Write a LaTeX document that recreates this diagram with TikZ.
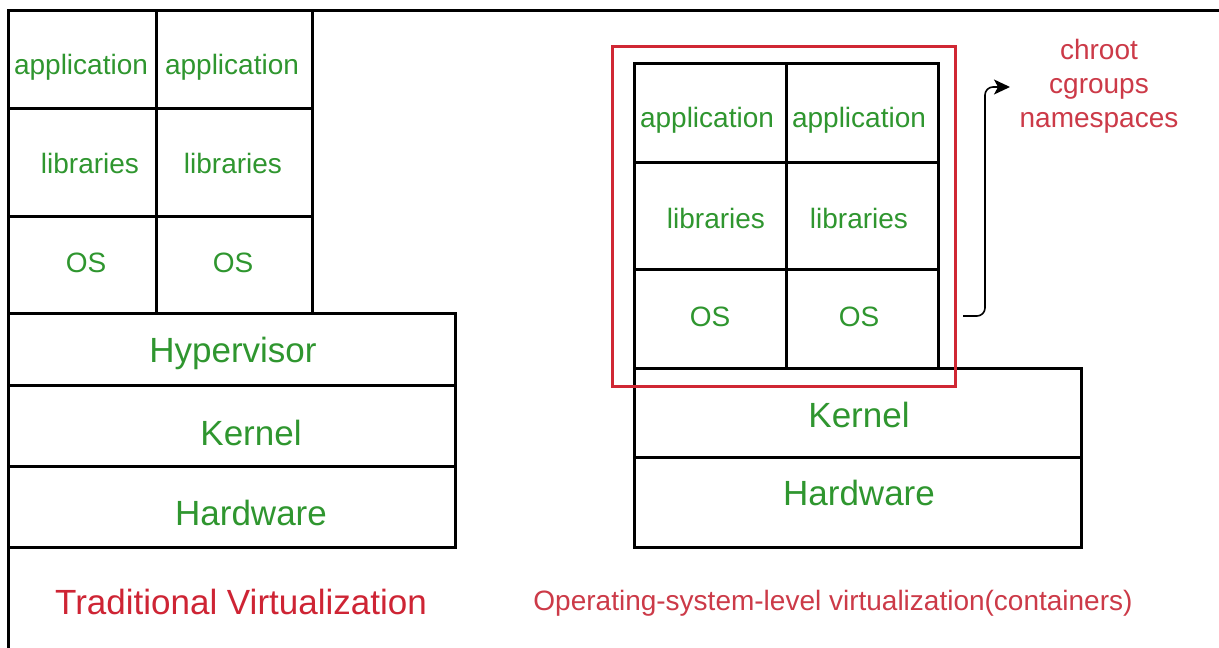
\documentclass[tikz,border=0pt]{standalone}
\usepackage{fontspec}
\setmainfont{Liberation Sans}
\usetikzlibrary{arrows.meta}

\definecolor{lblgreen}{RGB}{47,150,47}
\definecolor{lblred}{RGB}{206,36,52}
\definecolor{notered}{RGB}{204,58,72}
\definecolor{boxred}{RGB}{208,40,52}

\tikzset{
  cell/.style={draw=black, line width=3pt, rectangle, inner sep=0pt, outer sep=0pt},
  small/.style={text=lblgreen, font=\fontsize{28}{32}\selectfont, inner sep=0pt},
  big/.style={text=lblgreen, font=\fontsize{35}{40}\selectfont, inner sep=0pt},
  caption/.style={font=\fontsize{35}{40}\selectfont, inner sep=0pt},
}

\begin{document}
\begin{tikzpicture}[x=1pt, y=-1pt]
\useasboundingbox (0,0) rectangle (1219,648);
\fill[white] (0,0) rectangle (1219,648);

% outer frame (top and left edges)
\coordinate (ftl) at (8,10);
\coordinate (ftr) at (1222,10);
\coordinate (fbl) at (8,652);
\draw[line width=3pt] (ftr) -- (ftl) -- (fbl);

% ---------- traditional virtualization stack ----------
\node[cell, minimum width=148pt, minimum height=98pt]  (la1) at (82,59) {};
\node[cell, minimum width=156pt, minimum height=98pt]  (la2) at (234,59) {};
\node[cell, minimum width=148pt, minimum height=108pt] (ll1) at (82,162) {};
\node[cell, minimum width=156pt, minimum height=108pt] (ll2) at (234,162) {};
\node[cell, minimum width=148pt, minimum height=97pt]  (lo1) at (82,264.5) {};
\node[cell, minimum width=156pt, minimum height=97pt]  (lo2) at (234,264.5) {};
\node[cell, minimum width=447pt, minimum height=72pt]  (hyp) at (231.5,349) {};
\node[cell, minimum width=447pt, minimum height=81pt]  (lker) at (231.5,425.5) {};
\node[cell, minimum width=447pt, minimum height=81pt]  (lhw) at (231.5,506.5) {};

\node[small] (ta1) at (81,67) {application};
\node[small] (ta2) at (232,67) {application};
\node[small] (tl1) at (90,163) {libraries};
\node[small] (tl2) at (233,163) {libraries};
\node[small] (to1) at (86,263) {OS};
\node[small] (to2) at (233,263) {OS};
\node[big] (thyp) at (233,353) {Hypervisor};
\node[big] (tlker) at (251,433) {Kernel};
\node[big] (tlhw) at (251,513) {Hardware};

\node[caption, text=lblred] (cap1) at (241,602) {Traditional Virtualization};

% ---------- container stack ----------
\node[cell, minimum width=152pt, minimum height=99pt]  (ra1) at (710,112.5) {};
\node[cell, minimum width=152pt, minimum height=99pt]  (ra2) at (862,112.5) {};
\node[cell, minimum width=152pt, minimum height=107pt] (rl1) at (710,215.5) {};
\node[cell, minimum width=152pt, minimum height=107pt] (rl2) at (862,215.5) {};
\node[cell, minimum width=152pt, minimum height=99pt]  (ro1) at (710,318.5) {};
\node[cell, minimum width=152pt, minimum height=99pt]  (ro2) at (862,318.5) {};
\node[cell, minimum width=447pt, minimum height=89pt]  (rker) at (857.5,412.5) {};
\node[cell, minimum width=447pt, minimum height=90pt]  (rhw) at (857.5,502) {};

\node[small] (ua1) at (707,120) {application};
\node[small] (ua2) at (859,120) {application};
\node[small] (ul1) at (716,218) {libraries};
\node[small] (ul2) at (859,218) {libraries};
\node[small] (uo1) at (710,317) {OS};
\node[small] (uo2) at (859,317) {OS};
\node[big] (trker) at (859,415) {Kernel};
\node[big] (trhw) at (859,493) {Hardware};

% container boundary
\node[draw=boxred, line width=3pt, rectangle, inner sep=0pt,
      minimum width=343pt, minimum height=340pt] (cont) at (783.5,216) {};

% isolation mechanisms
\node[text=notered, font=\fontsize{28}{34}\selectfont, align=center, inner sep=0pt]
  (mech) at (1099,86) {chroot\\cgroups\\namespaces};
\coordinate (arrs) at (963,316);
\coordinate (abend) at (985,87);
\coordinate (arre) at (1010,87);
\draw[line width=1.6pt, rounded corners=8pt]
  (arrs) -- (985,316) -- (abend) -- ([xshift=-6pt]arre);
\draw[line width=1.6pt, -{Stealth[length=16pt, width=15pt, inset=4pt]}]
  ([xshift=-14pt]arre) -- (arre);

\node[font=\fontsize{28}{32}\selectfont, text=notered, inner sep=0pt]
  (cap2) at (833,603) {Operating-system-level virtualization(containers)};
\end{tikzpicture}
\end{document}
